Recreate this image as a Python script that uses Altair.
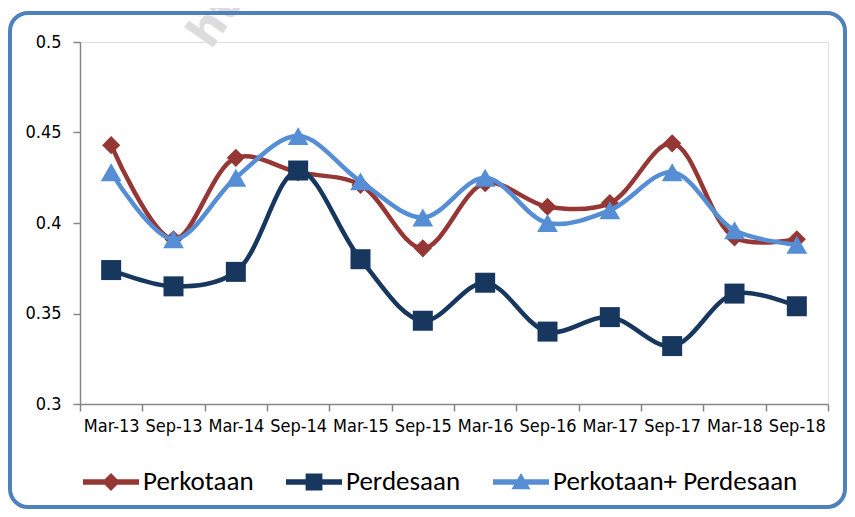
import altair as alt
import pandas as pd

periods = ["Mar-13", "Sep-13", "Mar-14", "Sep-14", "Mar-15", "Sep-15",
           "Mar-16", "Sep-16", "Mar-17", "Sep-17", "Mar-18", "Sep-18"]
perkotaan = [0.443, 0.391, 0.436, 0.428, 0.421, 0.386, 0.422, 0.409, 0.411, 0.444, 0.392, 0.391]
perdesaan = [0.374, 0.365, 0.373, 0.429, 0.380, 0.346, 0.367, 0.340, 0.348, 0.332, 0.361, 0.354]
gabungan = [0.428, 0.391, 0.425, 0.448, 0.423, 0.403, 0.425, 0.400, 0.407, 0.428, 0.396, 0.388]
series_names = ["Perkotaan", "Perdesaan", "Perkotaan+ Perdesaan"]
colors = ["#953735", "#17375E", "#558ED5"]
shapes = ["diamond", "square", "triangle-up"]
sizes = [330, 400, 430]
y_ticks = [0.3, 0.35, 0.4, 0.45, 0.5]

legend_paths = [
    "M-1,-0.1H1V0.1H-1Z M0,-0.32L0.32,0L0,0.32L-0.32,0Z",
    "M-1,-0.1H1V0.1H-1Z M-0.3,-0.3H0.3V0.3H-0.3Z",
    "M-1,-0.1H1V0.1H-1Z M0,-0.32L0.34,0.26H-0.34Z",
]

rows = []
for name, vals in zip(series_names, [perkotaan, perdesaan, gabungan]):
    for p, v in zip(periods, vals):
        rows.append({"period": p, "series": name, "value": v})
df = pd.DataFrame(rows)

AXIS_GRAY = "#868686"
TICK_FONT = "Liberation Sans Narrow, Arial Narrow, DejaVu Sans Condensed, sans-serif"
LEGEND_FONT = "Carlito, Lato, Open Sans, sans-serif"

x_enc = alt.X(
    "period:N", sort=periods, bandPosition=0.5,
    scale=alt.Scale(type="band", domain=periods, paddingInner=0, paddingOuter=0),
    axis=alt.Axis(title=None, labelAngle=0, tickBand="extent", grid=False,
                  domainColor=AXIS_GRAY, tickColor=AXIS_GRAY, domainWidth=1.5,
                  tickWidth=1.5, tickSize=7, labelFont=TICK_FONT, labelFontSize=18,
                  labelColor="#000000", labelPadding=6),
)
y_enc = alt.Y(
    "value:Q",
    scale=alt.Scale(domain=[0.3, 0.5], nice=False, zero=False),
    axis=alt.Axis(title=None, values=y_ticks, format="~g", grid=False,
                  domainColor=AXIS_GRAY, tickColor=AXIS_GRAY, domainWidth=1.5,
                  tickWidth=1.5, tickSize=7, labelFont=TICK_FONT, labelFontSize=18,
                  labelColor="#000000", labelPadding=12),
)

frame = alt.Chart(alt.Data(values=[{}])).mark_rect(
    filled=False, stroke="#4F81BD", strokeWidth=4, cornerRadius=18
).encode(x=alt.value(-70), x2=alt.value(765), y=alt.value(-29), y2=alt.value(465))

watermark = alt.Chart(alt.Data(values=[{}])).mark_text(
    text="ht", angle=305, fontSize=46, fontWeight="bold", color="#dcdcdc",
    font="DejaVu Sans", align="center", baseline="middle"
).encode(x=alt.value(135), y=alt.value(-22))

layers = [watermark, frame]
for name, col, shp, sz in zip(series_names, colors, shapes, sizes):
    base = alt.Chart(df).transform_filter(alt.datum.series == name)
    layers.append(base.mark_line(interpolate="catmull-rom", strokeWidth=4.5, color=col)
                  .encode(x=x_enc, y=y_enc))
    layers.append(base.mark_point(shape=shp, size=sz, filled=True, opacity=1, color=col)
                  .encode(x=x_enc, y=y_enc))

legend_kw = dict(title=None, orient="none", legendX=3, legendY=412,
                 direction="horizontal", symbolSize=3136,
                 symbolOpacity=1, symbolStrokeWidth=0,
                 labelFont=LEGEND_FONT, labelFontSize=27, labelLimit=0,
                 labelColor="#000000", labelOffset=4, columnPadding=32)

legend = alt.Chart(df).mark_point(filled=True, opacity=0).encode(
    x=x_enc, y=y_enc,
    color=alt.Color("series:N", scale=alt.Scale(domain=series_names, range=colors),
                    legend=alt.Legend(**legend_kw)),
    shape=alt.Shape("series:N", scale=alt.Scale(domain=series_names, range=legend_paths),
                    legend=alt.Legend(**legend_kw)),
)
layers.append(legend)

chart = alt.layer(*layers).properties(
    width=748, height=362,
    autosize=alt.AutoSizeParams(type="none"),
    padding={"left": 72, "top": 34, "right": 19, "bottom": 105},
).configure_view(stroke=None).configure(background="#ffffff")

chart.save("out.html", embed_options={"renderer": "svg", "actions": False})
